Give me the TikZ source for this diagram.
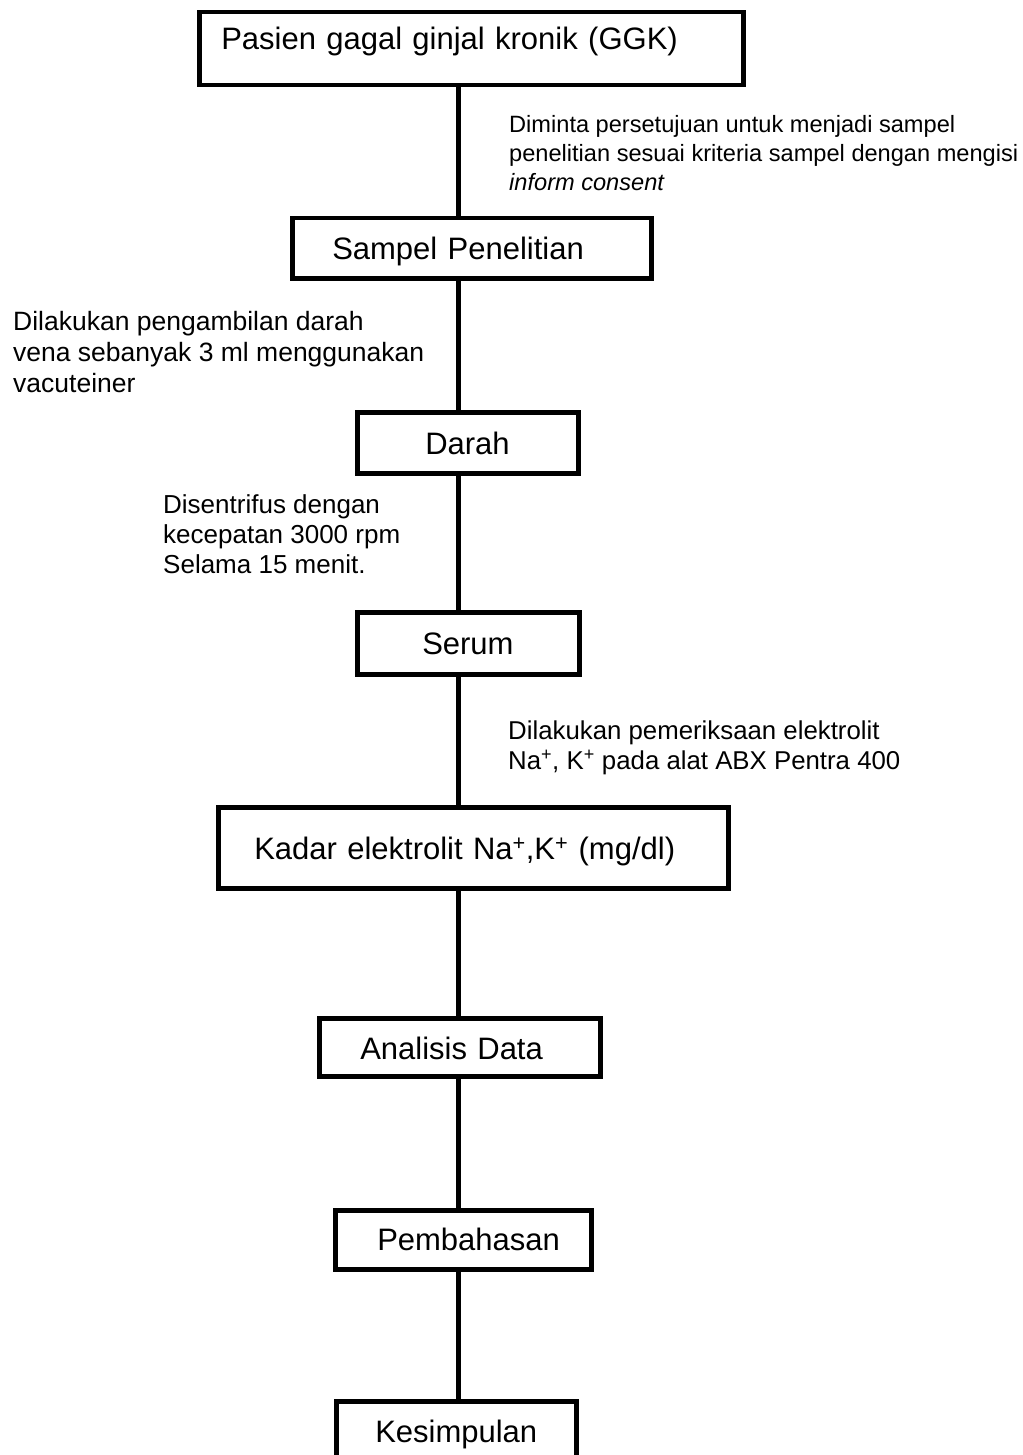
\documentclass[tikz,border=0pt]{standalone}
\usepackage{fontspec}
\setmainfont{Liberation Sans}
\begin{document}
\begin{tikzpicture}[x=1pt,y=-1pt,
  box/.style={draw, line width=4.5pt, inner sep=0pt, anchor=north west, align=left, font=\fontsize{31}{36}\selectfont},
  lbl/.style={inner sep=0pt, anchor=north west, align=left, font=\fontsize{26}{30}\selectfont},
  conn/.style={line width=4.4pt}]
\clip (0,0) rectangle (1022,1455);
\fill[white] (0,0) rectangle (1022,1455);
\coordinate (spine) at (458.5,0);
% boxes
\node[box, text width=544pt, text height=37.5pt, text depth=35.5pt] (b1) at (197,10) {\hspace*{22pt}Pasien gagal ginjal kronik (GGK)};
\node[box, text width=359pt, text height=41pt, text depth=19pt] (b2) at (290,216) {\hspace*{40pt}Sampel Penelitian};
\node[box, text width=221pt, text height=42pt, text depth=19pt] (b3) at (355,410) {\hspace*{68pt}Darah};
\node[box, text width=222pt, text height=42pt, text depth=20pt] (b4) at (355,610) {\hspace*{65pt}Serum};
\node[box, text width=510pt, text height=52pt, text depth=29pt] (b5) at (216,805) {\hspace*{36pt}Kadar elektrolit Na\textsuperscript{+},K\textsuperscript{+} (mg/dl)};
\node[box, text width=281pt, text height=41pt, text depth=17pt] (b6) at (317,1016) {\hspace*{41pt}Analisis Data};
\node[box, text width=256pt, text height=40pt, text depth=19pt] (b7) at (333,1208) {\hspace*{42pt}Pembahasan};
\node[box, text width=240pt, text height=41pt, text depth=35pt] (b8) at (334,1399) {\hspace*{39pt}Kesimpulan};
% connectors
\draw[conn] (b1.south -| spine) -- (b2.north -| spine);
\draw[conn] (b2.south -| spine) -- (b3.north -| spine);
\draw[conn] (b3.south -| spine) -- (b4.north -| spine);
\draw[conn] (b4.south -| spine) -- (b5.north -| spine);
\draw[conn] (b5.south -| spine) -- (b6.north -| spine);
\draw[conn] (b6.south -| spine) -- (b7.north -| spine);
\draw[conn] (b7.south -| spine) -- (b8.north -| spine);
% labels
\node[lbl, font=\fontsize{23.6}{29}\selectfont] (l1) at (509,111.7) {\strut Diminta persetujuan untuk menjadi sampel\\penelitian sesuai kriteria sampel dengan mengisi\\\textit{inform consent}};
\node[lbl, font=\fontsize{26.5}{31}\selectfont] (l2) at (13,308.3) {\strut Dilakukan pengambilan darah\\vena sebanyak 3 ml menggunakan\\vacuteiner};
\node[lbl] (l3) at (163,492) {\strut Disentrifus dengan\\kecepatan 3000 rpm\\Selama 15 menit.};
\node[lbl, font=\fontsize{25.8}{30.5}\selectfont] (l4) at (508,717.5) {\strut Dilakukan pemeriksaan elektrolit\\Na\textsuperscript{+}, K\textsuperscript{+} pada alat ABX Pentra 400};
\end{tikzpicture}
\end{document}
